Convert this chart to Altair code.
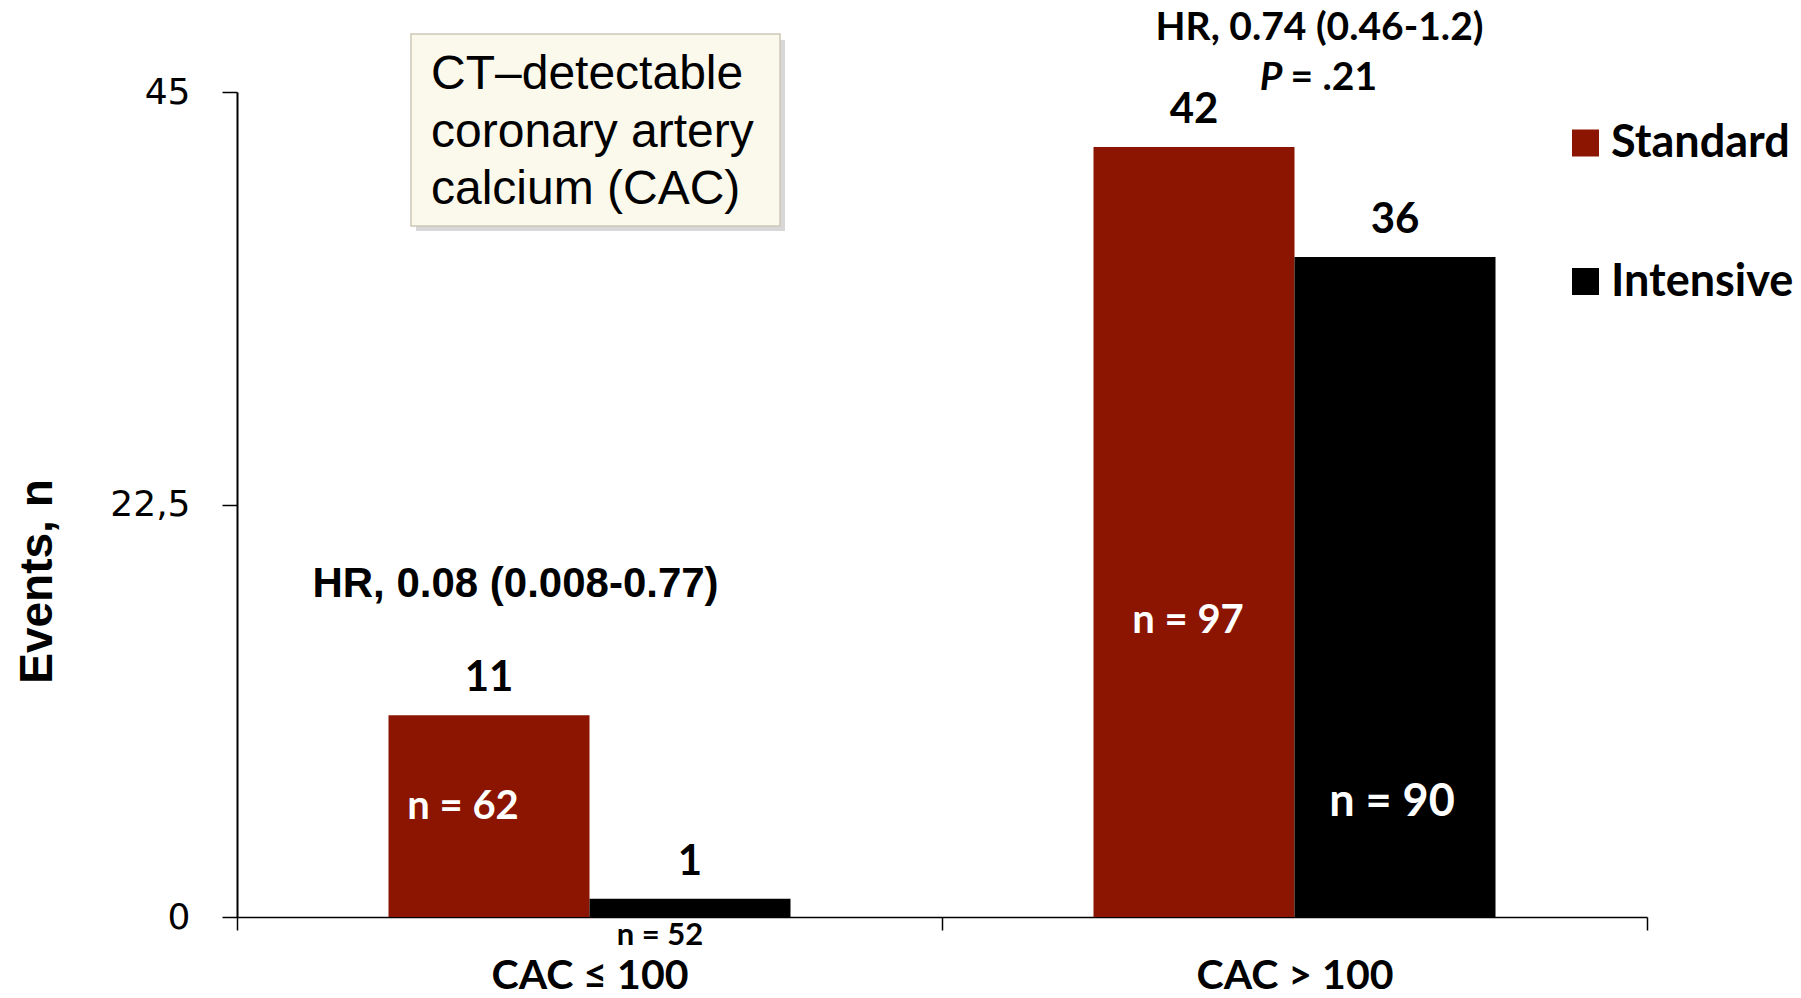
import altair as alt
import pandas as pd

# ---------------- data ----------------
categories = ["CAC ≤ 100", "CAC > 100"]
groups = ["Standard", "Intensive"]
standard_events = [11, 42]
intensive_events = [1, 36]
standard_n = ["n = 62", "n = 97"]
intensive_n = ["n = 52", "n = 90"]
hr_texts = ["HR, 0.08 (0.008-0.77)", "HR, 0.74 (0.46-1.2)"]
p_parts = ["P", "= .21"]
box_lines = ["CT–detectable", "coronary artery", "calcium (CAC)"]
y_ticks = [0, 22.5, 45]
colors = ["#8B1500", "#000000"]

rows = []
for i, c in enumerate(categories):
    rows.append(dict(category=c, group=groups[0], events=standard_events[i], n=standard_n[i]))
    rows.append(dict(category=c, group=groups[1], events=intensive_events[i], n=intensive_n[i]))
df = pd.DataFrame(rows)
hr_df = pd.DataFrame({"category": categories, "hr": hr_texts})
one = pd.DataFrame({"k": [0]})

W, H = 1410, 825
CAL = "Lato"
ARIAL = "Liberation Sans"

x_enc = alt.X(
    "category:N", sort=categories, title=None,
    scale=alt.Scale(domain=categories, paddingInner=0, paddingOuter=0),
    axis=alt.Axis(tickBand="extent", tickSize=13, tickColor="black", tickWidth=1.5,
                  domainColor="black", domainWidth=1.5, labelFont=CAL, labelFontSize=41,
                  labelFontWeight="bold", labelColor="black", labelPadding=58,
                  labelBaseline="alphabetic", labelLimit=600, labelAngle=0, grid=False),
)
xo_enc = alt.XOffset("group:N", sort=groups,
                     scale=alt.Scale(domain=groups, paddingOuter=0.7537, paddingInner=0))
y_enc = alt.Y(
    "events:Q", title="Events, n",
    scale=alt.Scale(domain=[0, 45], nice=False, zero=True),
    axis=alt.Axis(values=y_ticks, format=".1~f", labelExpr="replace(datum.label, '.', ',')",
                  labelFont="DejaVu Sans", labelFontSize=36, labelColor="black",
                  labelPadding=32, tickSize=15, tickColor="black", tickWidth=1.5,
                  domainColor="black", domainWidth=2, grid=False,
                  titleFont=ARIAL, titleFontSize=46, titleFontWeight="bold", titleColor="black",
                  titleAngle=270, titleX=-186, titleY=489, titleBaseline="alphabetic",
                  titleAlign="center"),
)
color_enc = alt.Color(
    "group:N", sort=groups,
    scale=alt.Scale(domain=groups, range=colors),
    legend=alt.Legend(title=None, orient="none", legendX=1326, legendY=28.5,
                      symbolType="square", symbolSize=729, symbolStrokeWidth=0,
                      symbolOpacity=1, labelFont=CAL, labelFontSize=45,
                      labelFontWeight="bold", labelColor="black", labelOffset=3,
                      rowPadding=92.5, labelLimit=500, padding=0),
)

bars = alt.Chart(df).mark_bar().encode(x=x_enc, xOffset=xo_enc, y=y_enc, color=color_enc)

values = alt.Chart(df).mark_text(font=CAL, fontSize=42, fontWeight="bold", color="black",
                                 baseline="alphabetic", dy=-24).encode(
    x=x_enc, xOffset=xo_enc, y=y_enc, text="events:Q")


def n_layer(ci, gi, yval, size, col, dx):
    return alt.Chart(df).transform_filter(
        alt.FieldEqualPredicate(field="n", equal=(standard_n if gi == 0 else intensive_n)[ci])
    ).mark_text(font=CAL, fontWeight="bold", fontSize=size, color=col, dx=dx,
                baseline="middle").encode(
        x=x_enc, xOffset=xo_enc, y=alt.Y(datum=yval), text="n:N")


n_layers = [
    n_layer(0, 0, 6.0, 40, "white", -26),
    n_layer(0, 1, -1.05, 31, "black", -30),
    n_layer(1, 0, 16.17, 40, "white", -6),
    n_layer(1, 1, 6.25, 45, "white", -3),
]


def hr_layer(ci, yval, size, font, dx, align="center", style="normal", text=None):
    base = alt.Chart(hr_df).transform_filter(
        alt.FieldEqualPredicate(field="category", equal=categories[ci]))
    m = base.mark_text(font=font, fontWeight="bold", fontSize=size, color="black", dx=dx,
                       align=align, baseline="alphabetic", fontStyle=style)
    if text is None:
        return m.encode(x=x_enc, y=alt.Y(datum=yval), text="hr:N")
    return m.encode(x=x_enc, y=alt.Y(datum=yval), text=alt.value(text))


hr_layers = [
    hr_layer(0, 17.45, 42, ARIAL, -74),
    hr_layer(1, 47.84, 39, CAL, 25),
    hr_layer(1, 45.1, 39, CAL, -12, align="right", style="italic", text=p_parts[0]),
    hr_layer(1, 45.1, 39, CAL, -4, align="left", text=p_parts[1]),
]

shadow = alt.Chart(one).mark_rect(fill="#8c8c8c", opacity=0.35).encode(
    x=alt.value(179), x2=alt.value(548), y=alt.value(-52), y2=alt.value(139))
box = alt.Chart(one).mark_rect(fill="#FBF8EC", stroke="#cdc8b6", strokeWidth=1.5).encode(
    x=alt.value(174), x2=alt.value(543), y=alt.value(-58), y2=alt.value(134))
box_text = [
    alt.Chart(one).mark_text(font=ARIAL, fontSize=48, color="black", align="left",
                             baseline="middle").encode(
        x=alt.value(194), y=alt.value(yy), text=alt.value(t))
    for t, yy in zip(box_lines, [-17, 41, 98])
]

chart = alt.layer(bars, values, *n_layers, *hr_layers, shadow, box, *box_text).properties(
    width=W, height=H,
    padding={"left": 237, "top": 92, "right": 154, "bottom": 81},
    autosize=alt.AutoSizeParams(type="none"),
).configure_view(stroke="transparent")

chart.save("out.html", embed_options={"renderer": "svg", "actions": False})
